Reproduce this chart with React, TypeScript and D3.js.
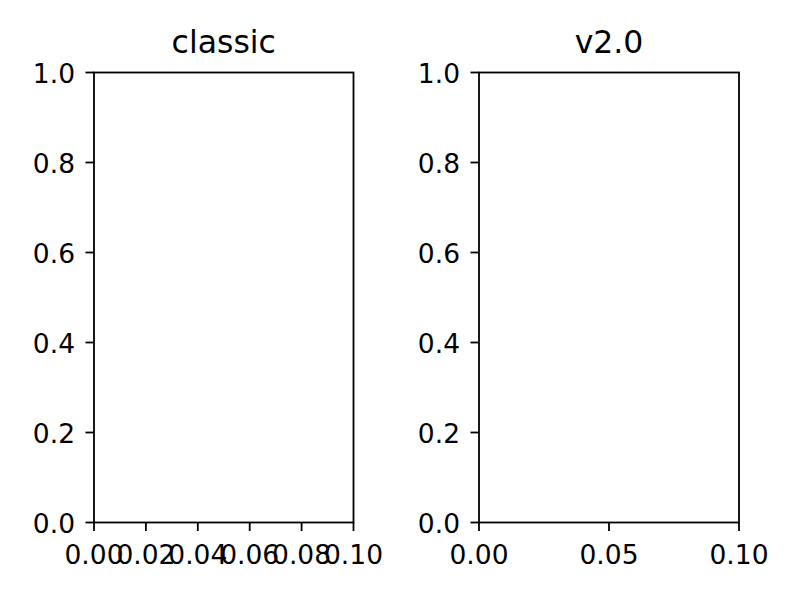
import React from "react";
import * as d3 from "d3";

const panelTitles = ["classic", "v2.0"];
const xDomain = [0, 0.1];
const yDomain = [0, 1];
const xTicksClassic = [0, 0.02, 0.04, 0.06, 0.08, 0.1];
const xTicksV2 = [0, 0.05, 0.1];
const yTicks = [0, 0.2, 0.4, 0.6, 0.8, 1.0];

const W = 800;
const H = 600;
const TOP = 72.5;
const BOTTOM = 522.5;
const panels = [
  { left: 94, right: 353.5, title: panelTitles[0], xTicks: xTicksClassic },
  { left: 479, right: 739, title: panelTitles[1], xTicks: xTicksV2 },
];

const FONT = "DejaVu Sans, sans-serif";
const TICK_FS = 26.5;
const TITLE_FS = 31.5;
const TICK_LEN = 8.5;
const LW = 1.8;

function Panel({ left, right, title, xTicks }: any) {
  const x = d3.scaleLinear().domain(xDomain).range([left, right]);
  const y = d3.scaleLinear().domain(yDomain).range([BOTTOM, TOP]);
  const fmtX = d3.format(".2f");
  const fmtY = d3.format(".1f");
  return (
    <g>
      <text
        x={(left + right) / 2}
        y={52.5}
        textAnchor="middle"
        fontFamily={FONT}
        fontSize={TITLE_FS}
        fill="#000"
      >
        {title}
      </text>
      {yTicks.map((t) => (
        <g key={"y" + t}>
          <line x1={left - TICK_LEN} x2={left} y1={y(t)} y2={y(t)} stroke="#000" strokeWidth={LW} />
          <text
            x={left - 19}
            y={y(t) + 10.8}
            textAnchor="end"
            fontFamily={FONT}
            fontSize={TICK_FS}
            fill="#000"
          >
            {fmtY(t)}
          </text>
        </g>
      ))}
      {xTicks.map((t: number) => (
        <g key={"x" + t}>
          <line x1={x(t)} x2={x(t)} y1={BOTTOM} y2={BOTTOM + TICK_LEN} stroke="#000" strokeWidth={LW} />
          <text
            x={x(t)}
            y={564}
            textAnchor="middle"
            fontFamily={FONT}
            fontSize={TICK_FS}
            fill="#000"
          >
            {fmtX(t)}
          </text>
        </g>
      ))}
      <rect
        x={left}
        y={TOP}
        width={right - left}
        height={BOTTOM - TOP}
        fill="none"
        stroke="#000"
        strokeWidth={LW}
      />
    </g>
  );
}

export default function App() {
  return (
    <svg
      width={W}
      height={H}
      style={{ position: "absolute", left: 0, top: 0, display: "block", background: "#fff" }}
    >
      <rect x={0} y={0} width={W} height={H} fill="#fff" />
      {panels.map((p) => (
        <Panel key={p.title} {...p} />
      ))}
    </svg>
  );
}
